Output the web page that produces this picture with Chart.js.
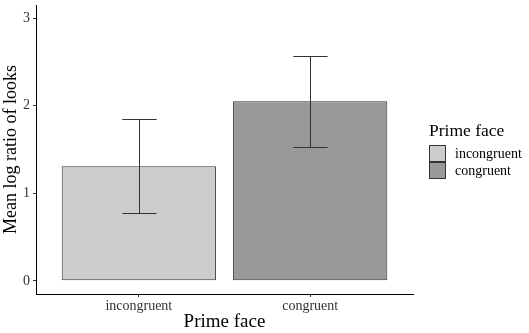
<!DOCTYPE html>
<html>
<head>
<meta charset="utf-8">
<script src="https://cdn.jsdelivr.net/npm/chart.js@4"></script>
<style>
  html, body { margin: 0; padding: 0; background: #fff; }
  #wrap { width: 529px; height: 333px; }
</style>
</head>
<body>
<div id="wrap"><canvas id="chart" width="529" height="333"></canvas></div>
<script>
// data
const categories = ['incongruent', 'congruent'];
const means = [1.31, 2.05];
const errLow = [0.78, 1.53];
const errHigh = [1.85, 2.57];
const yTicks = [0, 1, 2, 3];
const fills = ['#cccccc', '#999999'];

const serif = '"Liberation Serif", "DejaVu Serif", serif';

// error bars drawn through the scales
const errorBars = {
    id: 'errorBars',
    afterDatasetsDraw(chart) {
        const { ctx, scales: { x, y } } = chart;
        const half = (x.getPixelForValue(2) - x.getPixelForValue(1)) * 0.1;
        ctx.save();
        ctx.strokeStyle = '#333333';
        ctx.lineWidth = 1;
        categories.forEach((c, i) => {
            const px = Math.round(x.getPixelForValue(i + 1)) + 0.5;
            const lo = Math.round(y.getPixelForValue(errLow[i])) + 0.5;
            const hi = Math.round(y.getPixelForValue(errHigh[i])) + 0.5;
            ctx.beginPath();
            ctx.moveTo(px, lo); ctx.lineTo(px, hi);
            ctx.moveTo(px - half, lo); ctx.lineTo(px + half, lo);
            ctx.moveTo(px - half, hi); ctx.lineTo(px + half, hi);
            ctx.stroke();
        });
        ctx.restore();
    }
};

// ggplot-style legend on the right
const sideLegend = {
    id: 'sideLegend',
    afterDraw(chart) {
        const ctx = chart.ctx;
        const left = chart.chartArea.right + 16;
        ctx.save();
        ctx.fillStyle = '#000';
        ctx.font = '17.5px ' + serif;
        ctx.textBaseline = 'alphabetic';
        ctx.fillText('Prime face', left, 136);
        categories.forEach((c, i) => {
            const top = 145 + i * 17;
            ctx.fillStyle = fills[i];
            ctx.fillRect(left, top, 17, 17);
            ctx.strokeStyle = '#333333';
            ctx.lineWidth = 1;
            ctx.strokeRect(left + 0.5, top + 0.5, 16, 16);
            ctx.fillStyle = '#000';
            ctx.font = '14px ' + serif;
            ctx.textBaseline = 'middle';
            ctx.fillText(c, left + 26, top + 9);
        });
        ctx.restore();
    }
};

new Chart(document.getElementById('chart'), {
    type: 'bar',
    data: {
        datasets: [{
            data: means.map((v, i) => ({ x: i + 1, y: v })),
            backgroundColor: fills,
            borderColor: '#333333',
            borderWidth: 1,
            borderSkipped: false,
            categoryPercentage: 1,
            barPercentage: 0.9
        }]
    },
    options: {
        responsive: false,
        animation: false,
        layout: { padding: { top: 5, right: 116, left: 0, bottom: 0 } },
        plugins: { legend: { display: false }, tooltip: { enabled: false } },
        scales: {
            x: {
                type: 'linear',
                offset: false,
                min: 0.4,
                max: 2.6,
                afterBuildTicks: s => { s.ticks = categories.map((c, i) => ({ value: i + 1 })); },
                afterFit: s => { s.height = 39; s.paddingLeft = 0; s.paddingRight = 0; },
                ticks: {
                    callback: v => categories[v - 1],
                    color: '#333333',
                    font: { family: serif, size: 14 },
                    padding: 1,
                    maxRotation: 0
                },
                grid: { offset: false, drawOnChartArea: false, drawTicks: true, tickLength: 3, color: '#333333' },
                border: { display: true, color: '#000000', width: 1 },
                title: {
                    display: true,
                    text: 'Prime face',
                    color: '#000',
                    font: { family: serif, size: 19 },
                    padding: { top: 0, bottom: 0 }
                }
            },
            y: {
                min: -0.15,
                max: 3.15,
                afterBuildTicks: s => { s.ticks = yTicks.map(v => ({ value: v })); },
                afterFit: s => { s.width = 36; s.paddingTop = 0; s.paddingBottom = 0; },
                ticks: {
                    color: '#333333',
                    font: { family: serif, size: 14 },
                    padding: 3
                },
                grid: { drawOnChartArea: false, drawTicks: true, tickLength: 3, color: '#333333' },
                border: { display: true, color: '#000000', width: 1 },
                title: {
                    display: true,
                    text: 'Mean log ratio of looks',
                    color: '#000',
                    font: { family: serif, size: 18 },
                    padding: { top: 0, bottom: 2 }
                }
            }
        }
    },
    plugins: [errorBars, sideLegend]
});
</script>
</body>
</html>
